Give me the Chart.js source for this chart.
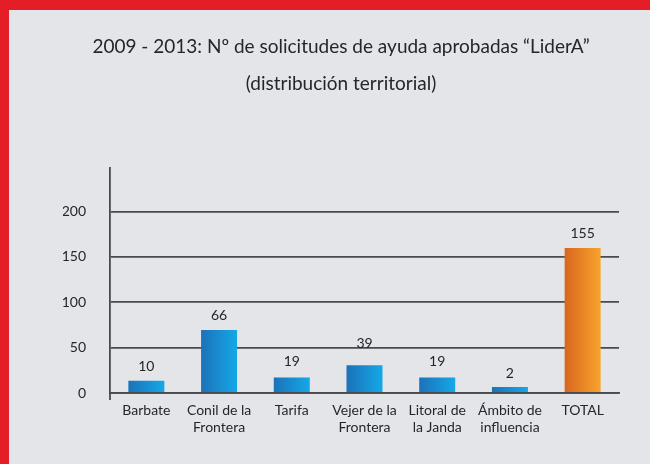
<!DOCTYPE html>
<html>
<head>
<meta charset="utf-8">
<script src="https://cdn.jsdelivr.net/npm/chart.js@4.4.1/dist/chart.umd.min.js"></script>
<style>
    html, body { margin: 0; padding: 0; background: #e41e26; overflow: hidden; }
    #box { position: absolute; left: 9px; top: 10px; width: 641px; height: 454px; background: #e3e5e8; }
</style>
</head>
<body>
<div id="box"><canvas id="ayudasChart"></canvas></div>
<script>
// categories (multi-line labels)
var territorios = [
    'Barbate',
    ['Conil de la', 'Frontera'],
    'Tarifa',
    ['Vejer de la', 'Frontera'],
    ['Litoral de', 'la Janda'],
    ['Ámbito de', 'influencia'],
    'TOTAL'
];
// bar heights as drawn in the picture
var alturas = [13.5, 69.5, 17, 30.5, 17, 6.5, 160];
// numbers printed above each bar
var etiquetas = [10, 66, 19, 39, 19, 2, 155];
var yTicks = [0, 50, 100, 150, 200];

var titulo = ['2009 - 2013: Nº de solicitudes de ayuda aprobadas “LiderA”', '(distribución territorial)'];

var fontName = 'Lato, "Open Sans", sans-serif';
var textColor = '#262628';
var lineColor = '#4a4a4d';

function barGradient(context) {
    var chart = context.chart;
    var xs = chart.scales.x;
    var i = context.dataIndex;
    var isTotal = territorios[i] === 'TOTAL';
    if (!xs || !chart.chartArea) return isTotal ? '#ee8a27' : '#1a8fd1';
    var cx = xs.getPixelForValue(i);
    var half = xs.width / territorios.length * 0.495 / 2;
    var g = chart.ctx.createLinearGradient(cx - half, 0, cx + half, 0);
    if (isTotal) {
        g.addColorStop(0, '#d8661f');
        g.addColorStop(1, '#f8a42b');
    } else {
        g.addColorStop(0, '#1c72b8');
        g.addColorStop(1, '#14a8e8');
    }
    return g;
}

// value labels above bars + little tail of the y axis below zero
var extrasPlugin = {
    id: 'extras',
    afterDatasetsDraw: function (chart) {
        var ctx = chart.ctx;
        var xs = chart.scales.x, ys = chart.scales.y;
        ctx.save();
        ctx.fillStyle = textColor;
        ctx.font = '14px ' + fontName;
        ctx.textAlign = 'center';
        ctx.textBaseline = 'middle';
        etiquetas.forEach(function (v, i) {
            var top = ys.getPixelForValue(Math.max(v, alturas[i]));
            ctx.fillText(String(v), xs.getPixelForValue(i), top - 14);
        });
        ctx.strokeStyle = lineColor;
        ctx.lineWidth = 1.8;
        ctx.beginPath();
        ctx.moveTo(chart.chartArea.left, chart.chartArea.bottom);
        ctx.lineTo(chart.chartArea.left, chart.chartArea.bottom + 7);
        ctx.stroke();
        ctx.restore();
    }
};

var ctx = document.getElementById('ayudasChart').getContext('2d');

new Chart(ctx, {
    type: 'bar',
    data: {
        labels: territorios,
        datasets: [{
            label: 'Solicitudes aprobadas',
            data: alturas,
            backgroundColor: barGradient,
            borderWidth: 0,
            barPercentage: 0.495,
            categoryPercentage: 1
        }]
    },
    options: {
        responsive: true,
        maintainAspectRatio: false,
        animation: false,
        layout: {
            padding: { left: 54, right: 31, top: 0, bottom: 0 }
        },
        plugins: {
            legend: { display: false },
            tooltip: { enabled: false },
            title: {
                display: true,
                text: titulo,
                color: textColor,
                font: { family: fontName, size: 19, weight: 'normal', lineHeight: 1.95 },
                padding: { top: 18.5, bottom: 65.5 }
            }
        },
        scales: {
            x: {
                grid: { display: false, drawTicks: false },
                border: { display: true, color: lineColor, width: 1.8 },
                ticks: {
                    color: textColor,
                    font: { family: fontName, size: 14, lineHeight: 1.2 },
                    padding: 9,
                    maxRotation: 0,
                    autoSkip: false
                },
                afterFit: function (scale) { scale.height = 71; }
            },
            y: {
                min: 0,
                max: 248,
                afterBuildTicks: function (scale) {
                    scale.ticks = yTicks.map(function (v) { return { value: v }; });
                },
                grid: { color: lineColor, lineWidth: 1.8, drawTicks: false },
                border: { display: true, color: lineColor, width: 1.8 },
                ticks: {
                    color: textColor,
                    font: { family: fontName, size: 14 },
                    padding: 24
                },
                afterFit: function (scale) { scale.width = 47; }
            }
        }
    },
    plugins: [extrasPlugin]
});
</script>
</body>
</html>
